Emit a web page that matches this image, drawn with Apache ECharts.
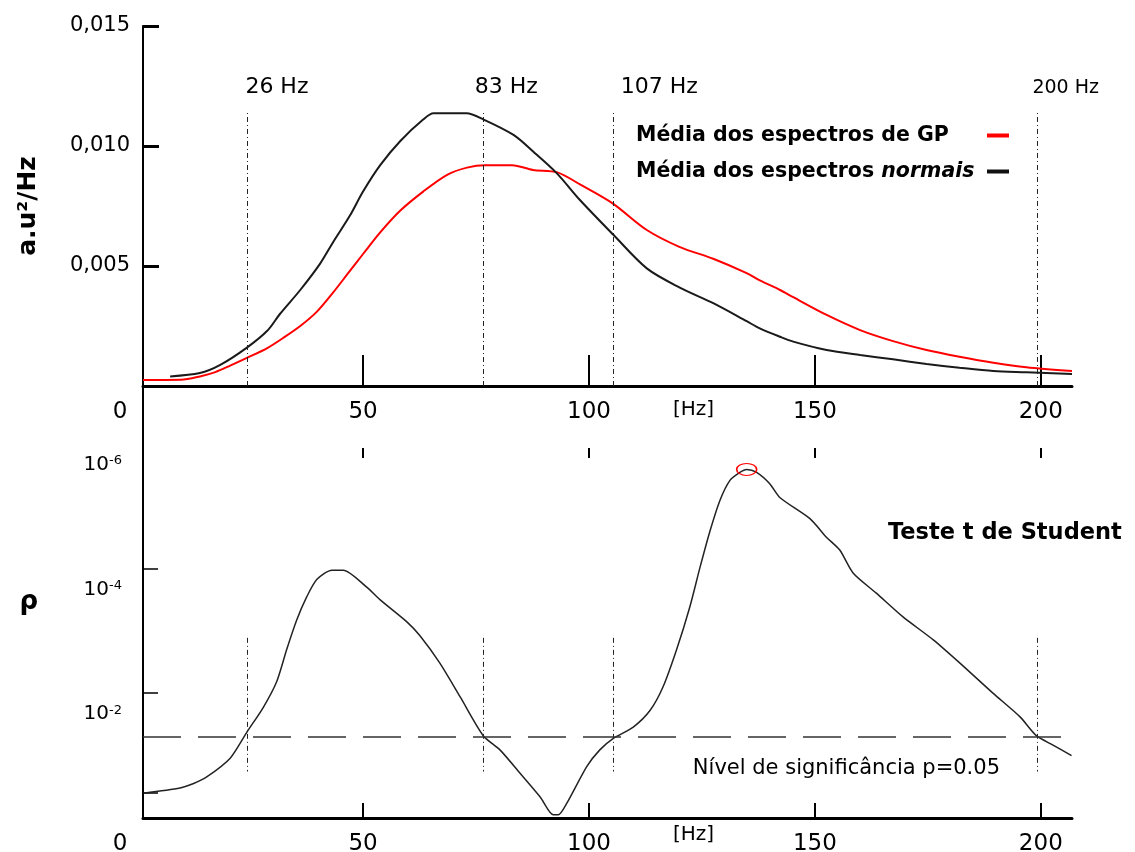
<!DOCTYPE html>
<html><head><meta charset="utf-8">
<script src="https://cdn.jsdelivr.net/npm/echarts@6/dist/echarts.min.js"></script>
<style>html,body{margin:0;padding:0;background:#fff}#c{width:1135px;height:852px}</style>
</head><body><div id="c"></div>
<script>
// ---------- data ----------
// top panel: mean spectra (Hz, a.u.^2/Hz)
const gpHz  = [1.3, 9.7, 13.9, 17.3, 20.6, 24.3, 28.8, 32.3, 36.1, 39.8, 43.4, 46.7, 50.0, 53.8, 58.2, 63.3, 68.6, 73.0, 77.0, 83.0, 87.6, 93.0, 98.0, 105.3, 112.8, 120.0, 127.5, 134.9, 137.8, 142.3, 145.2, 152.6, 160.0, 167.3, 174.7, 182.0, 189.5, 196.8, 206.9];
const gpVal = [0.00025, 0.00026, 0.0004, 0.00058, 0.00085, 0.00117, 0.00158, 0.0020, 0.0025, 0.0031, 0.0039, 0.0047, 0.0055, 0.0064, 0.0073, 0.0081, 0.0088, 0.0091, 0.0092, 0.0092, 0.0090, 0.0089, 0.0084, 0.0076, 0.0065, 0.0058, 0.0053, 0.0047, 0.0044, 0.0040, 0.0037, 0.00296, 0.00233, 0.00187, 0.0015, 0.00122, 0.00097, 0.00078, 0.00062];
const nHz   = [7.3, 13.9, 18.4, 24.3, 28.8, 31.6, 36.1, 40.5, 43.4, 47.1, 50.0, 53.8, 58.2, 63.3, 65.6, 72.9, 76.7, 83.3, 87.7, 92.9, 98.0, 105.4, 112.8, 120.1, 127.5, 134.9, 137.8, 142.3, 145.2, 152.6, 160.0, 167.3, 174.7, 182.0, 189.5, 196.8, 206.9];
const nVal  = [0.0004, 0.00054, 0.00088, 0.0016, 0.0023, 0.0030, 0.0040, 0.0051, 0.0060, 0.0071, 0.0081, 0.0092, 0.0102, 0.0111, 0.01136, 0.01136, 0.0111, 0.01046, 0.00976, 0.00886, 0.00775, 0.0063, 0.0049, 0.0041, 0.00345, 0.0027, 0.0024, 0.00205, 0.00185, 0.0015, 0.00129, 0.00111, 0.00092, 0.00076, 0.00062, 0.00057, 0.0005];
// bottom panel: Student t-test p value (Hz, p)
const pHz   = [1.4, 9.5, 12.5, 15.4, 20.6, 24.3, 27.9, 30.9, 33.1, 35.3, 37.5, 39.8, 43.1, 45.6, 50.8, 53.8, 59.7, 62.6, 67.0, 71.5, 76.6, 80.3, 84.7, 89.2, 92.1, 93.2, 95.1, 99.5, 102.4, 105.4, 109.8, 113.5, 116.4, 119.4, 122.3, 124.6, 126.8, 129.0, 131.2, 133.4, 134.9, 137.1, 140.0, 142.3, 148.9, 152.6, 155.5, 158.5, 163.6, 169.5, 176.2, 182.1, 189.4, 195.4, 199.0, 202.7, 206.8];
const pVal  = [0.40, 0.33, 0.28, 0.22, 0.11, 0.042, 0.017, 0.0065, 0.0020, 6.8e-4, 2.9e-4, 1.5e-4, 1.07e-4, 1.07e-4, 2.0e-4, 3.2e-4, 7.2e-4, 1.2e-3, 3.3e-3, 0.0115, 0.048, 0.081, 0.19, 0.46, 0.89, 0.89, 0.58, 0.15, 0.081, 0.053, 0.035, 0.019, 0.0079, 0.0020, 4.2e-4, 9.5e-5, 2.5e-5, 8.1e-6, 3.9e-6, 2.9e-6, 2.6e-6, 2.9e-6, 4.4e-6, 7.4e-6, 1.6e-5, 3.2e-5, 5.1e-5, 1.2e-4, 2.5e-4, 6.0e-4, 1.4e-3, 3.3e-3, 0.010, 0.024, 0.048, 0.068, 0.10];
// reference frequency lines (position on the axis, label)
const refHz     = [24.3, 76.6, 105.4, 199.3];
const refLabels = ['26 Hz', '83 Hz', '107 Hz', '200 Hz'];
const refSpanSpec = [0, 0.0115];
const refSpanP    = [1.3e-3, 0.18];
// ticks
const xTicks    = [50, 100, 150, 200];
const specTicks = [0.005, 0.010, 0.015];
const pLabels   = [1e-6, 1e-4, 1e-2];
const pTicks    = [1e-4, 1e-2, pVal[0]];
const pSig      = 0.05;
const names = ['Média dos espectros de GP', 'Média dos espectros normais'];

// ---------- chart ----------
const F = 'DejaVu Sans';
const X0 = 1.3, X1 = 206.9;
const zip = (a, b) => a.map((v, i) => [v, b[i]]);
const chart = echarts.init(document.getElementById('c'), null, {renderer: 'canvas'});

const refPad = [60, 46, 92, 56];
const refSize = [22, 22, 22, 19];
const topRefLines = refHz.map((x, i) => [
  {coord: [x, refSpanSpec[0]], label: {show: true, formatter: refLabels[i], position: 'end', distance: 12,
    padding: [0, 0, 0, refPad[i]], fontSize: refSize[i], fontFamily: F, color: '#000'}},
  {coord: [x, refSpanSpec[1]]}
]);
const botRefLines = refHz.map(x => [
  {coord: [x, refSpanP[0]], label: {show: false}},
  {coord: [x, refSpanP[1]]}
]);
const dashDot = {type: [5, 3, 1, 3], color: '#222', width: 1};

const xCommon = {
  type: 'value', min: X0, max: X1, splitLine: {show: false},
  axisLine: {lineStyle: {color: '#000', width: 3}},
  axisTick: {inside: true, customValues: xTicks, lineStyle: {color: '#000', width: 2}},
  axisLabel: {customValues: [X0].concat(xTicks), fontSize: 23, fontFamily: F, color: '#000', margin: 15,
    formatter: v => v < 2 ? '{z|0}' : String(v),
    rich: {z: {fontSize: 23, fontFamily: F, color: '#000', padding: [0, 46, 0, 0]}}},
  name: '[Hz]', nameLocation: 'middle', nameMoveOverlap: false,
  nameTextStyle: {fontSize: 20, fontFamily: F, color: '#000', padding: [0, 0, 0, 172]}
};

chart.setOption({
  animation: false,
  backgroundColor: '#fff',
  title: {text: 'Teste t de Student', left: 883, top: 517,
    textStyle: {fontSize: 22.5, fontWeight: 'bold', fontFamily: F, color: '#000'}},
  legend: {
    data: names, orient: 'vertical', left: 631, top: 120, itemGap: 15, align: 'right',
    icon: 'rect', itemWidth: 22, itemHeight: 4,
    formatter: n => n === names[1] ? '{b|Média dos espectros }{bi|normais}' : '{b|' + n + '}',
    textStyle: {width: 346, fontSize: 20.5, fontWeight: 'bold', fontFamily: F, color: '#000',
      rich: {b: {align: 'left', fontSize: 20.5, fontWeight: 'bold', fontFamily: F, color: '#000'},
             bi: {align: 'left', fontSize: 20.5, fontWeight: 'bold', fontStyle: 'italic', fontFamily: F, color: '#000'}}}
  },
  grid: [
    {left: 143, right: 63, top: 26, height: 360, outerBoundsMode: 'none', containLabel: false},
    {left: 143, right: 63, top: 386, height: 432, outerBoundsMode: 'none', containLabel: false}
  ],
  xAxis: [
    Object.assign({}, xCommon, {gridIndex: 0, nameGap: 14,
      axisTick: Object.assign({}, xCommon.axisTick, {length: 31})}),
    {gridIndex: 0, type: 'value', min: X0, max: X1, position: 'bottom', offset: 62,
      axisLine: {show: false}, axisLabel: {show: false}, splitLine: {show: false},
      axisTick: {show: true, inside: false, length: 10, customValues: xTicks, lineStyle: {color: '#000', width: 2}}},
    Object.assign({}, xCommon, {gridIndex: 1, nameGap: 7,
      axisTick: Object.assign({}, xCommon.axisTick, {length: 15})})
  ],
  yAxis: [
    {gridIndex: 0, type: 'value', min: 0, max: 0.015, splitLine: {show: false},
      axisLine: {lineStyle: {color: '#000', width: 2}},
      axisTick: {inside: true, length: 16, customValues: specTicks, lineStyle: {color: '#000', width: 3}},
      axisLabel: {customValues: specTicks, fontSize: 21, fontFamily: F, color: '#000', margin: 13,
        formatter: v => v.toFixed(3).replace('.', ',')},
      name: 'a.u²/Hz', nameLocation: 'middle', nameRotate: 90, nameGap: 102, nameMoveOverlap: false,
      nameTextStyle: {fontSize: 25, fontWeight: 'bold', fontFamily: F, color: '#000'}},
    {gridIndex: 1, type: 'log', logBase: 10, inverse: true, min: 1.2e-7, max: 1, splitLine: {show: false},
      axisLine: {lineStyle: {color: '#000', width: 2}},
      axisTick: {inside: true, length: 15, customValues: pTicks, lineStyle: {color: '#000', width: 1.5}},
      axisLabel: {customValues: pLabels, margin: 21, padding: [44, 0, 0, 0],
        formatter: v => '{b|10}{s|' + Math.round(Math.log10(v)) + '}',
        rich: {b: {fontSize: 20, fontFamily: F, color: '#000', lineHeight: 22, verticalAlign: 'top'},
               s: {fontSize: 13, fontFamily: F, color: '#000', lineHeight: 13, verticalAlign: 'top'}}},
      name: 'ρ', nameLocation: 'middle', nameGap: 105, nameRotate: 0, nameMoveOverlap: false,
      nameTextStyle: {fontSize: 26, fontWeight: 'bold', fontFamily: F, color: '#000'}}
  ],
  series: [
    {name: names[0], type: 'line', xAxisIndex: 0, yAxisIndex: 0, data: zip(gpHz, gpVal),
      showSymbol: false, smooth: 0.3, color: '#ff0000', lineStyle: {width: 2, color: '#ff0000'},
      markLine: {silent: true, symbol: ['none', 'none'], lineStyle: dashDot, data: topRefLines}},
    {name: names[1], type: 'line', xAxisIndex: 0, yAxisIndex: 0, data: zip(nHz, nVal),
      showSymbol: false, smooth: 0.3, color: '#111', lineStyle: {width: 2, color: '#1a1a1a'}},
    {name: 'p', type: 'line', xAxisIndex: 2, yAxisIndex: 1, data: zip(pHz, pVal),
      showSymbol: false, smooth: 0.25, color: '#222', lineStyle: {width: 1.5, color: '#222'},
      markLine: {silent: true, symbol: ['none', 'none'], lineStyle: dashDot,
        data: botRefLines.concat([{yAxis: pSig, lineStyle: {type: [38, 17], color: '#333', width: 1.5},
          label: {show: true, position: 'insideEndBottom', formatter: 'Nível de significância p=0.05',
            fontSize: 21, fontFamily: F, color: '#000', padding: [16, 67, 0, 0]}}])},
      markPoint: {silent: true, symbol: 'path://M0,6A10,6 0 1,0 20,6A10,6 0 1,0 0,6Z', symbolSize: [20, 12],
        itemStyle: {color: 'rgba(0,0,0,0)', borderColor: '#ff0000', borderWidth: 1.3},
        label: {show: false}, data: [{type: 'min'}]}}
  ]
});
</script></body></html>
